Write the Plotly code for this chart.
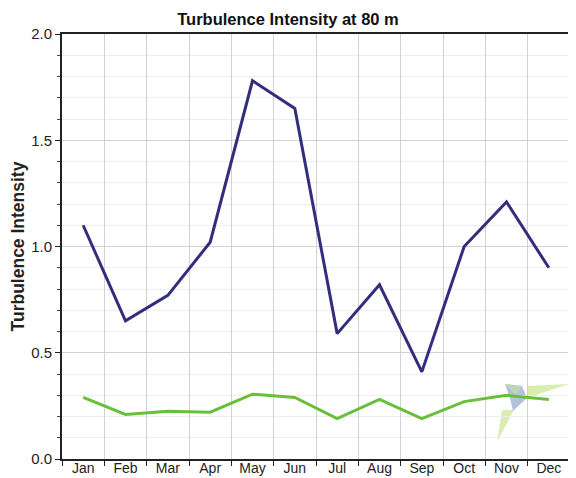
import plotly.graph_objects as go

months = ["Jan", "Feb", "Mar", "Apr", "May", "Jun", "Jul", "Aug", "Sep", "Oct", "Nov", "Dec"]
ti_mean_high = [1.10, 0.65, 0.77, 1.02, 1.78, 1.65, 0.59, 0.82, 0.41, 1.00, 1.21, 0.90]
ti_mean_low = [0.29, 0.21, 0.225, 0.22, 0.305, 0.29, 0.19, 0.28, 0.19, 0.27, 0.30, 0.28]
y_ticks = [0.0, 0.5, 1.0, 1.5, 2.0]
y_tick_text = ["0.0", "0.5", "1.0", "1.5", "2.0"]

FONT = "Liberation Sans, Arial, sans-serif"

# the page body has an 8px margin, so the figure is sized to fit the window
W, H = 568, 470

fig = go.Figure()
fig.add_trace(go.Scatter(x=months, y=ti_mean_high, mode="lines",
                         line=dict(color="#332e7c", width=3), showlegend=False))
fig.add_trace(go.Scatter(x=months, y=ti_mean_low, mode="lines",
                         line=dict(color="#6abf3a", width=3), showlegend=False))

# faint watermark logo in the lower-right corner (decoration, paper coordinates)
def px(xp, yp):
    return (xp - 62) / 508, (459 - yp) / 425

def poly(points):
    pts = [px(a, b) for a, b in points]
    return "M " + " L ".join(f"{a:.4f},{b:.4f}" for a, b in pts) + " Z"

logo = [
    ([(527, 386), (569, 384), (527, 398)], "rgba(190,225,120,0.6)"),
    ([(505, 384), (522, 386), (527, 398), (513, 411), (510, 398)], "rgba(120,140,190,0.55)"),
    ([(505, 384), (522, 386), (516, 395)], "rgba(200,225,160,0.6)"),
    ([(502, 410), (514, 410), (497, 442)], "rgba(195,225,130,0.6)"),
]
shapes = [dict(type="path", xref="paper", yref="paper", path=poly(p),
               fillcolor=c, line=dict(width=0), layer="below") for p, c in logo]

fig.update_layout(
    width=W, height=H,
    margin=dict(l=54, r=6, t=26, b=19),
    paper_bgcolor="white", plot_bgcolor="white",
    font=dict(family=FONT, size=14, color="#222"),
    title=dict(text="<b>Turbulence Intensity at 80 m</b>", x=280 / W, xanchor="center",
               xref="container", y=1 - 11 / H, yref="container", yanchor="middle",
               font=dict(size=16.5, color="#111")),
    shapes=shapes,
)
fig.update_xaxes(
    type="category", tickson="boundaries", ticks="outside", ticklen=5,
    tickcolor="#222", showgrid=True, gridcolor="#d2d2d2", gridwidth=1,
    showline=True, linecolor="#222", linewidth=2, mirror=True,
    tickfont=dict(size=14), range=[-0.5, 11.5], automargin=False,
    ticklabelstandoff=-5,
)
fig.update_yaxes(
    range=[0, 2.0], tickvals=y_ticks, ticktext=y_tick_text,
    ticks="outside", ticklen=5, tickcolor="#222",
    showgrid=True, gridcolor="#d2d2d2", gridwidth=1,
    showline=True, linecolor="#222", linewidth=2, mirror=True,
    zeroline=False, automargin=False,
    minor=dict(dtick=0.1, tick0=0, ticks="outside", ticklen=3, tickcolor="#444",
               showgrid=True, gridcolor="#eeeeee"),
    title=dict(text="<b>Turbulence Intensity</b>", font=dict(size=17.5), standoff=3),
    tickfont=dict(size=15),
)
fig.write_html("out.html")
